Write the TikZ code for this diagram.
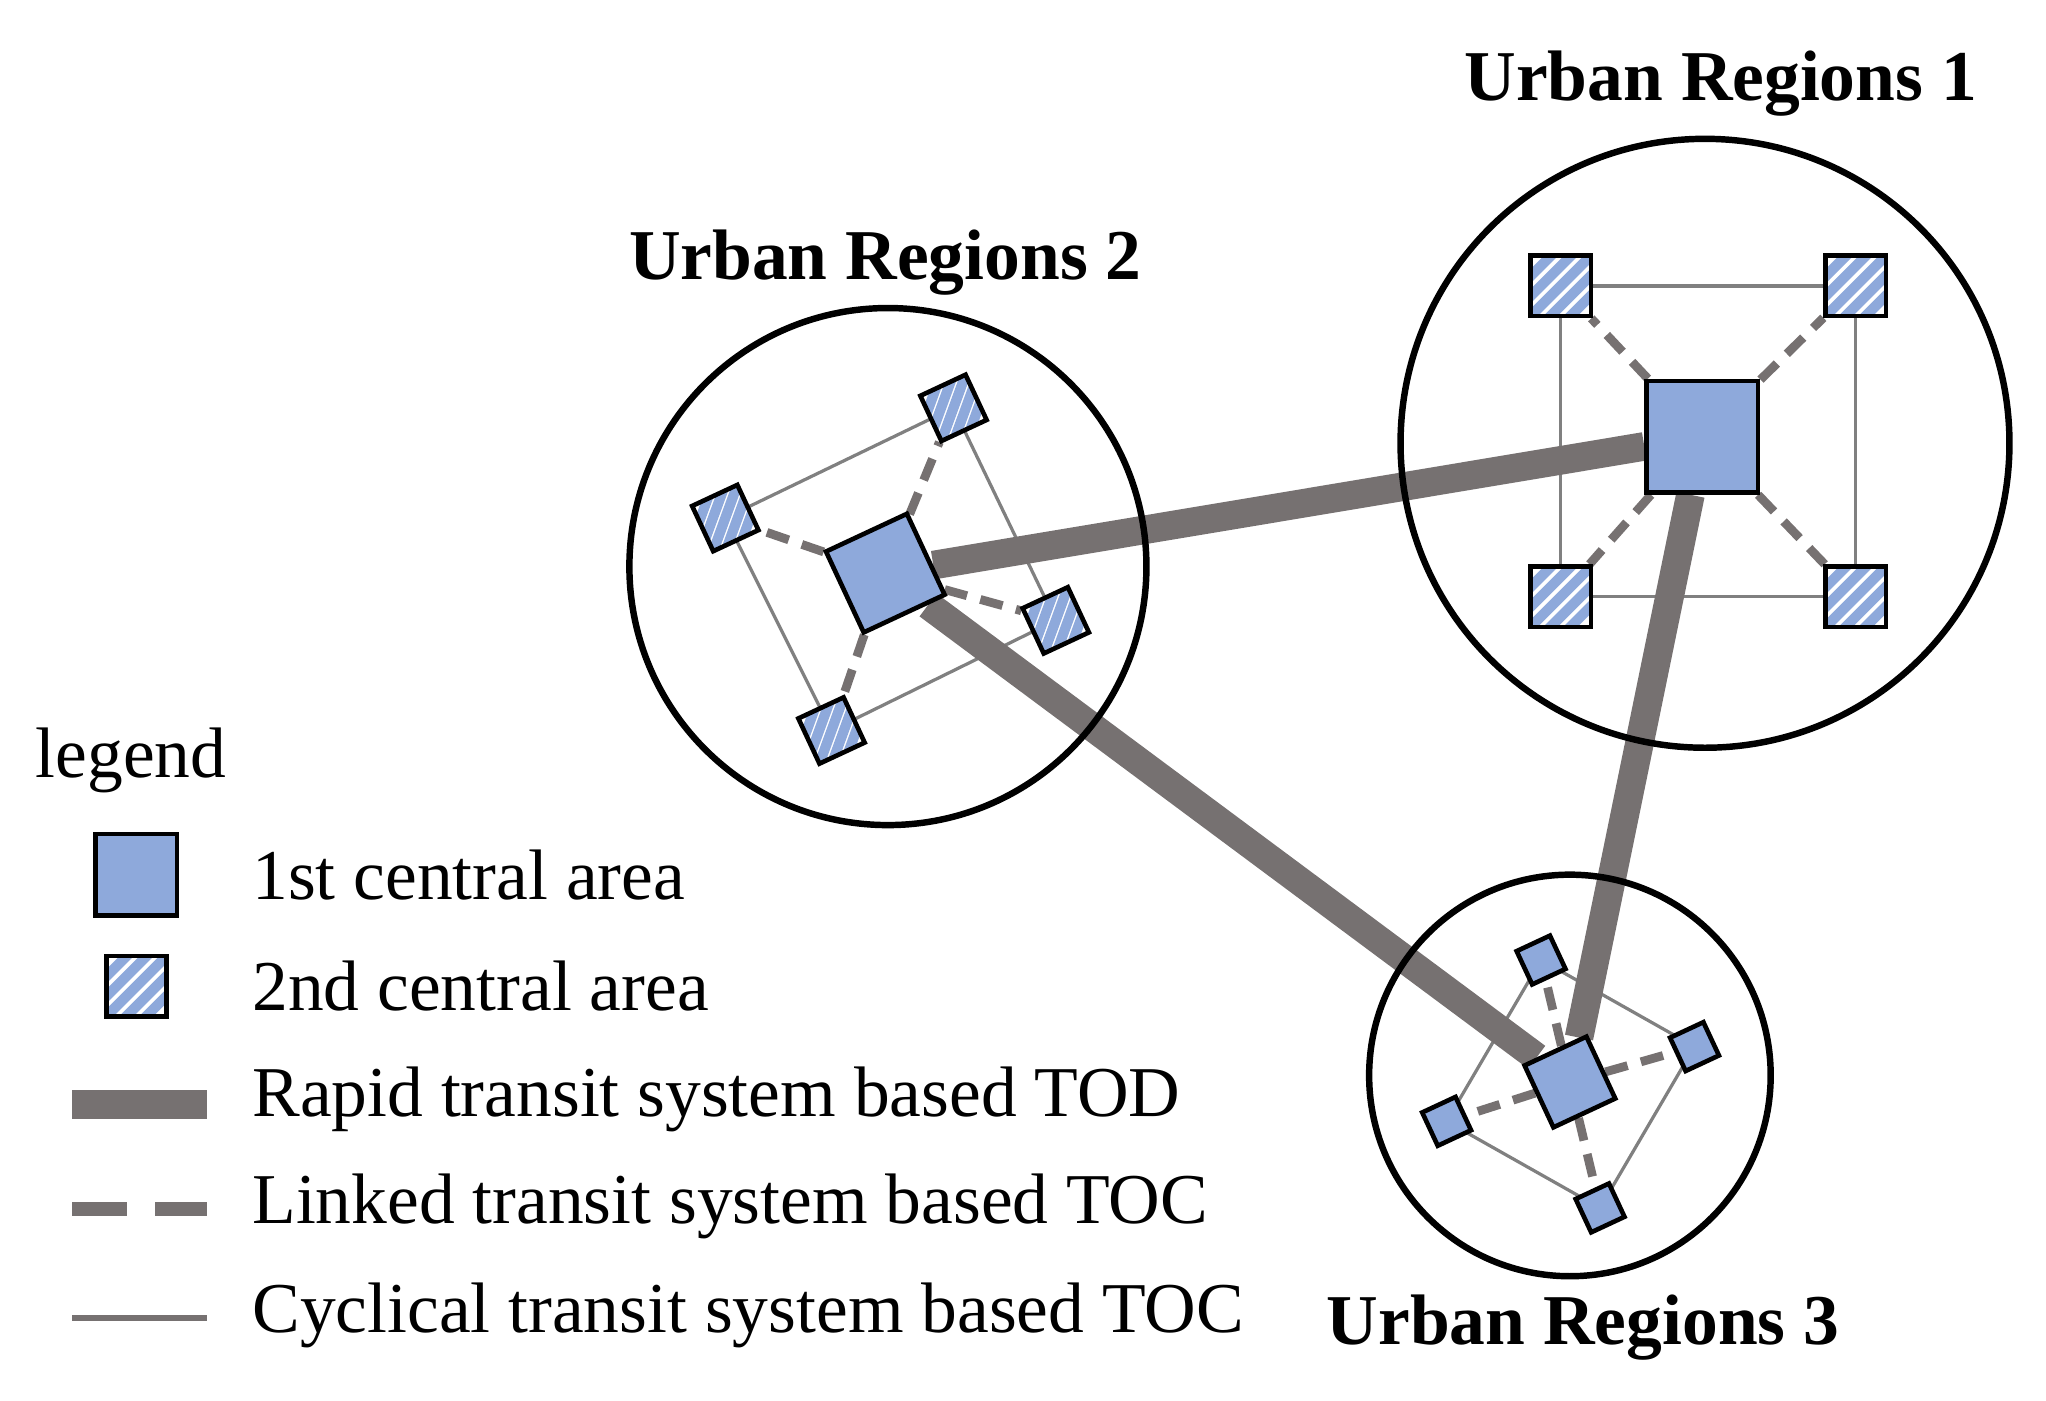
\documentclass[tikz,border=0pt]{standalone}
\usepackage{fontspec}
\setmainfont{Liberation Serif}
\usetikzlibrary{backgrounds}
\definecolor{cblue}{HTML}{8EA9DB}
\definecolor{cgray}{HTML}{767171}
\tikzset{
 region/.style={circle,draw,line width=1.4pt},
 central/.style={draw,fill=cblue,line width=1pt,inner sep=0pt,minimum size=#1},
 sat/.style={draw,fill=white,line width=1pt,inner sep=0pt,minimum size=#1,
   path picture={\foreach \i in {-2,...,2}{\draw[cblue,line width=2.2pt]
     ([xshift=\i*#1*0.33]path picture bounding box.center) ++(-1cm,-1cm) -- ++(2cm,2cm);}}},
 rapid/.style={cgray,line width=6.2pt},
 linked/.style={cgray,line width=1.9pt,dash pattern=on 5pt off 3pt},
 cyc/.style={gray,line width=0.7pt},
 title/.style={font=\bfseries\fontsize{15.5}{18}\selectfont},
 lab/.style={anchor=west,font=\fontsize{15.5}{18}\selectfont}
}
\begin{document}
\begin{tikzpicture}[x=0.01cm,y=-0.01cm]
\useasboundingbox (0,0) rectangle (1560,1068);
% regions
\node[region,minimum size=4.64cm] (R1) at (1300,338) {};
\node[region,minimum size=3.94cm] (R2) at (677,432) {};
\node[region,minimum size=3.06cm] (R3) at (1197,820) {};
% UR1
\node[central=0.85cm] (C1) at (1298,333) {};
\node[sat=0.46cm] (a1) at (1190,218) {};
\node[sat=0.46cm] (b1) at (1415,218) {};
\node[sat=0.46cm] (c1) at (1415,455) {};
\node[sat=0.46cm] (d1) at (1190,455) {};
% UR2
\node[central=0.68cm,rotate=25] (C2) at (675,437) {};
\node[sat=0.38cm,rotate=25] (a2) at (727,311) {};
\node[sat=0.38cm,rotate=25] (b2) at (805,473) {};
\node[sat=0.38cm,rotate=25] (c2) at (634,557) {};
\node[sat=0.38cm,rotate=25] (d2) at (553,395) {};
% UR3
\node[central=0.52cm,rotate=25] (C3) at (1197,825) {};
\node[sat=0.28cm,rotate=25] (a3) at (1175,732) {};
\node[sat=0.28cm,rotate=25] (b3) at (1292,798) {};
\node[sat=0.28cm,rotate=25] (c3) at (1220,921) {};
\node[sat=0.28cm,rotate=25] (d3) at (1103,855) {};
\begin{scope}[on background layer]
\foreach \r in {1,2,3}{
 \draw[cyc] (a\r.center) -- (b\r.center) -- (c\r.center) -- (d\r.center) -- cycle;
 \foreach \s in {a,b,c,d} \draw[linked] (C\r) -- (\s\r);
}
\draw[rapid] (C2) -- (C1);
\draw[rapid] (C2) -- (C3);
\draw[rapid] (C1) -- (C3);
\end{scope}
\node[title] (t1) at (1312,64) {Urban Regions 1};
\node[title] (t2) at (675,200) {Urban Regions 2};
\node[title] (t3) at (1207,1012) {Urban Regions 3};
% legend
\node[lab,anchor=center] (lg) at (100,580) {legend};
\node[central=0.62cm] (L1) at (104,667) {};
\node[sat=0.46cm] (L2) at (104,752) {};
\coordinate (l3a) at (55,842); \coordinate (l3b) at (158,842);
\coordinate (l4a) at (55,922); \coordinate (l4b) at (158,922);
\coordinate (l5a) at (55,1005); \coordinate (l5b) at (158,1005);
\draw[rapid] (l3a) -- (l3b);
\draw[cgray,line width=3pt,dash pattern=on 12pt off 6pt] (l4a) -- (l4b);
\draw[cgray,line width=1.4pt] (l5a) -- (l5b);
\node[lab] (x1) at (180,667) {1st central area};
\node[lab] (x2) at (180,752) {2nd central area};
\node[lab] (x3) at (180,838) {Rapid transit system based TOD};
\node[lab] (x4) at (180,920) {Linked transit system based TOC};
\node[lab] (x5) at (180,1003) {Cyclical transit system based TOC};
\end{tikzpicture}
\end{document}
